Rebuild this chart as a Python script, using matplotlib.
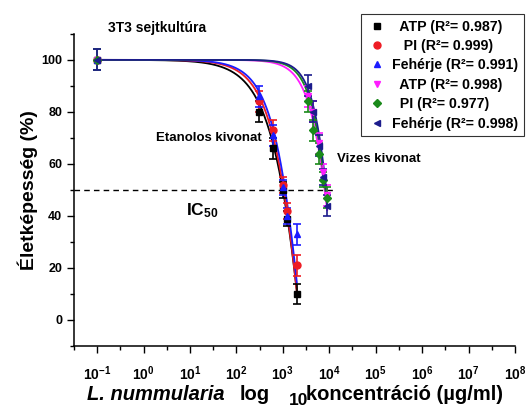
import numpy as np
import matplotlib
matplotlib.use('Agg')
import matplotlib.pyplot as plt
from matplotlib.ticker import FixedLocator, NullFormatter

plt.rcParams['font.family'] = ['Liberation Sans', 'DejaVu Sans']
plt.rcParams['font.weight'] = 'bold'
plt.rcParams['mathtext.fontset'] = 'custom'
plt.rcParams['mathtext.rm'] = 'Liberation Sans:bold'
plt.rcParams['mathtext.it'] = 'Liberation Sans:italic:bold'
plt.rcParams['mathtext.bf'] = 'Liberation Sans:bold'

# concentrations (ug/ml)
conc_etanol = [0.1, 300, 600, 1000, 1250, 2000]
conc_vizes = [0.1, 3500, 4500, 6000, 7500, 9000]

# viability (%) and SD
atp_etanol = [100, 80, 66, 50, 39, 10]
pi_etanol = [100, 84, 73, 52, 42, 21]
feh_etanol = [100, 86, 71, 51, 40, 33]
atp_vizes = [100, 86, 80, 68, 57, 48]
pi_vizes = [100, 84, 73, 64, 54, 47]
feh_vizes = [100, 90, 80, 67, 55, 44]

err_etanol = [4, 4, 4, 3, 3, 4]
err_vizes = [4, 4, 4, 4, 3, 4]

# fitted dose-response parameters: bottom, x0, hill
fit_params = {
    'atp_e': (-300, 7000, 1.0),
    'pi_e': (-200, 4230, 1.15),
    'feh_e': (-200, 4300, 1.2),
    'atp_v': (-100, 15800, 1.6),
    'pi_v': (-100, 15200, 1.8),
    'feh_v': (-100, 15400, 1.9),
}

r2 = ['0.987', '0.999', '0.991', '0.998', '0.977', '0.998']


def dose_resp(x, bottom, x0, hill, top=100):
    return bottom + (top - bottom) / (1 + (x / x0) ** hill)


series = [
    ('atp_e', conc_etanol, atp_etanol, err_etanol, 'black', 's', '  ATP'),
    ('pi_e', conc_etanol, pi_etanol, err_etanol, '#ee1c24', 'o', '   PI'),
    ('feh_e', conc_etanol, feh_etanol, err_etanol, '#1c1cff', '^', 'Fehérje'),
    ('atp_v', conc_vizes, atp_vizes, err_vizes, '#ff1cff', 'v', '  ATP'),
    ('pi_v', conc_vizes, pi_vizes, err_vizes, '#1a8a1a', 'D', '  PI'),
    ('feh_v', conc_vizes, feh_vizes, err_vizes, '#1c1c8c', '<', 'Fehérje'),
]

fig = plt.figure(figsize=(5.32, 4.08), dpi=100)
ax = fig.add_axes([0.139, 0.152, 0.829, 0.765])

handles = []
for i, (key, x, y, e, col, mk, name) in enumerate(series):
    xs = np.logspace(-1, np.log10(x[-1]), 400)
    ax.plot(xs, dose_resp(xs, *fit_params[key]), color=col, lw=1.3, zorder=2)
    ax.errorbar(x, y, yerr=e, fmt='none', ecolor=col, elinewidth=1.2,
                capsize=3, capthick=1.2, zorder=3)
    h, = ax.plot(x, y, ls='none', marker=mk, color=col, ms=5 if mk != 'D' else 4,
                 zorder=4, label=f'{name} (R²= {r2[i]})')
    handles.append(h)

# IC50 line
ax.plot([10 ** -1.5, 12000], [50, 50], color='black', ls=(0, (4, 3)), lw=1)

ax.set_xscale('log')
ax.set_xlim(10 ** -1.5, 1e8)
ax.set_ylim(-10, 110)
dec = list(range(-1, 9))
ax.set_xticks([10.0 ** k for k in dec])
ax.set_xticklabels([r'$10^{%d}$' % k for k in dec])
ax.xaxis.set_minor_locator(FixedLocator([10 ** (k + 0.5) for k in range(-2, 8)]))
ax.xaxis.set_minor_formatter(NullFormatter())
ax.set_yticks(range(0, 101, 20))
ax.yaxis.set_minor_locator(FixedLocator(range(-10, 111, 10)))

for s in ['top', 'right']:
    ax.spines[s].set_visible(False)
for s in ['left', 'bottom']:
    ax.spines[s].set_linewidth(1.1)
ax.tick_params(which='major', direction='out', length=5, width=1, labelsize=9)
ax.tick_params(axis='x', which='major', labelsize=10, pad=8)
ax.tick_params(which='minor', direction='out', length=3, width=1)

ax.set_ylabel('Életképesség (%)', fontsize=14, fontweight='bold', labelpad=2)

# x label built from pieces so the "10" can sit low at nearly full size
xl_y = 0.02
fig.text(87 / 532, xl_y, 'L. nummularia', fontsize=14.5, style='italic',
         fontweight='bold', ha='left', va='baseline')
fig.text(240 / 532, xl_y, 'log', fontsize=14.5, fontweight='bold',
         ha='left', va='baseline')
fig.text(289 / 532, xl_y - 0.012, '10', fontsize=12.5, fontweight='bold',
         ha='left', va='baseline')
fig.text(306 / 532, xl_y, 'koncentráció (µg/ml)', fontsize=14.5,
         fontweight='bold', ha='left', va='baseline')

fig.text(0.295, 0.932, '3T3 sejtkultúra', fontsize=10, fontweight='bold',
         ha='center', va='center')
ax.text(25, 70, 'Etanolos kivonat', fontsize=9.5, fontweight='bold',
        ha='center', va='center')
ax.text(14500, 62, 'Vizes kivonat', fontsize=9.5, fontweight='bold',
        ha='left', va='center')
ax.text(18, 42, r'IC$_{50}$', fontsize=12.5, fontweight='bold',
        ha='center', va='center')

leg = fig.legend(handles=handles, loc='upper right',
                 bbox_to_anchor=(524 / 532, 1 - 14 / 408), borderaxespad=0,
                 fontsize=10.2, frameon=True, fancybox=False, edgecolor='black',
                 handlelength=1.4, handletextpad=0.4, borderpad=0.4,
                 labelspacing=0.38)
leg.get_frame().set_linewidth(0.8)

fig.savefig('out.png', dpi=100)
